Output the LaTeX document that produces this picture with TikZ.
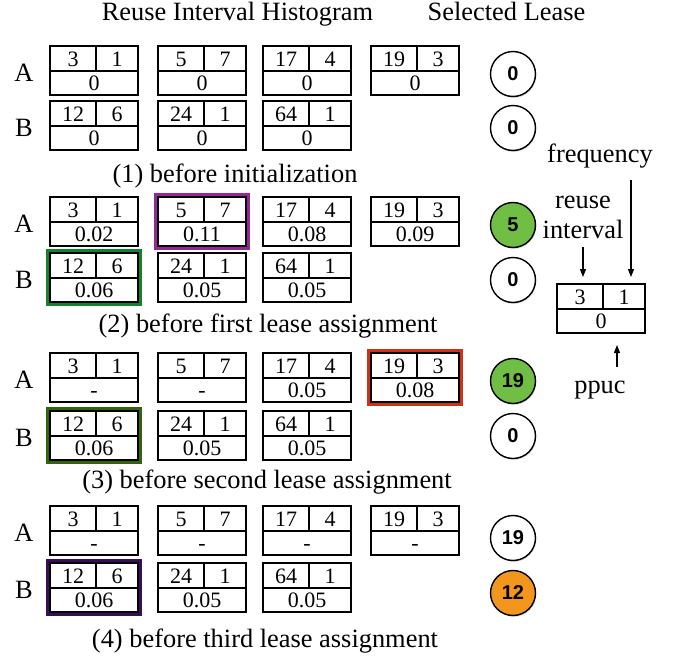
\documentclass[tikz,border=0pt]{standalone}
\usepackage{fontspec}
\setmainfont{Liberation Serif}
\newfontfamily\circfont{Liberation Sans}
\usetikzlibrary{arrows.meta,fit,shadows}
\definecolor{leasegreen}{RGB}{112,191,68}
\definecolor{leaseorange}{RGB}{243,150,30}
\definecolor{hlpurple}{RGB}{150,40,150}
\definecolor{hlgreen}{RGB}{20,130,45}
\definecolor{hlolive}{RGB}{50,100,12}
\definecolor{hlred}{RGB}{205,50,25}
\definecolor{hldark}{RGB}{55,15,85}
\tikzset{
  cellbox/.style={draw, line width=1.3pt, minimum width=88pt, minimum height=49pt, inner sep=0pt, outer sep=0pt},
  num/.style={font=\fontsize{22}{22}\selectfont, inner sep=0pt, text height=15pt, text depth=0pt},
  captext/.style={font=\fontsize{26.4}{28}\selectfont, inner sep=0pt},
  lease/.style={circle, draw, line width=1.4pt, minimum size=45pt, inner sep=0pt,
     font=\circfont\bfseries\fontsize{20}{20}\selectfont, fill=white,
     drop shadow={shadow xshift=0.8pt, shadow yshift=-1.3pt, opacity=0.35}},
  hl/.style={draw=#1, line width=3.5pt, inner sep=2.5pt},
  arr/.style={-{Triangle[length=8pt,width=6pt]}, line width=1.3pt}
}
% #1 name, #2 x left, #3 y top, #4 reuse interval, #5 frequency, #6 ppuc
\newcommand\ribox[6]{%
  \node[cellbox, anchor=north west] (#1) at (#2,#3) {};
  \draw[line width=1.6pt] ([yshift=-25pt]#1.north west) -- ([yshift=-25pt]#1.north east);
  \draw[line width=1.3pt] ([xshift=46pt]#1.north west) -- ([xshift=46pt,yshift=-25pt]#1.north west);
  \node[num] (#1r) at ([xshift=23pt,yshift=-12.5pt]#1.north west) {#4};
  \node[num] (#1f) at ([xshift=67pt,yshift=-12.5pt]#1.north west) {#5};
  \node[num] (#1p) at ([xshift=44pt,yshift=-37pt]#1.north west) {#6};
}
\begin{document}
\begin{tikzpicture}[x=1pt,y=-1pt]
\useasboundingbox (0,0) rectangle (673,659);
% titles
\node[captext, anchor=base] (title1) at (237.5,20) {Reuse Interval Histogram};
\node[captext, anchor=base] (title2) at (506.5,20) {Selected Lease};

% ---------- panel 1
\node[captext] (l1a) at (24,73) {A};
\node[captext] (l1b) at (24,128) {B};
\ribox{p1a1}{50}{46}{3}{1}{0}
\ribox{p1a2}{158}{46}{5}{7}{0}
\ribox{p1a3}{263}{46}{17}{4}{0}
\ribox{p1a4}{371}{46}{19}{3}{0}
\ribox{p1b1}{50}{101}{12}{6}{0}
\ribox{p1b2}{158}{101}{24}{1}{0}
\ribox{p1b3}{263}{101}{64}{1}{0}
\node[lease] (c1a) at (513,74) {0};
\node[lease] (c1b) at (513,128) {0};
\node[captext, anchor=base] (cap1) at (235,182) {(1) before initialization};

% ---------- panel 2
\node[captext] (l2a) at (24,224) {A};
\node[captext] (l2b) at (24,280) {B};
\ribox{p2a1}{50}{197}{3}{1}{0.02}
\ribox{p2a2}{158}{197}{5}{7}{0.11}
\ribox{p2a3}{263}{197}{17}{4}{0.08}
\ribox{p2a4}{371}{197}{19}{3}{0.09}
\ribox{p2b1}{50}{253}{12}{6}{0.06}
\ribox{p2b2}{158}{253}{24}{1}{0.05}
\ribox{p2b3}{263}{253}{64}{1}{0.05}
\node[hl=hlpurple, fit=(p2a2)] (h2a) {};
\node[hl=hlgreen, fit=(p2b1)] (h2b) {};
\node[lease, fill=leasegreen] (c2a) at (513,225) {5};
\node[lease] (c2b) at (513,280) {0};
\node[captext, anchor=base] (cap2) at (268,332) {(2) before first lease assignment};

% ---------- panel 3
\node[captext] (l3a) at (24,380) {A};
\node[captext] (l3b) at (24,438) {B};
\ribox{p3a1}{50}{353}{3}{1}{-}
\ribox{p3a2}{158}{353}{5}{7}{-}
\ribox{p3a3}{263}{353}{17}{4}{0.05}
\ribox{p3a4}{371}{353}{19}{3}{0.08}
\ribox{p3b1}{50}{411}{12}{6}{0.06}
\ribox{p3b2}{158}{411}{24}{1}{0.05}
\ribox{p3b3}{263}{411}{64}{1}{0.05}
\node[hl=hlred, fit=(p3a4)] (h3a) {};
\node[hl=hlolive, fit=(p3b1)] (h3b) {};
\node[lease, fill=leasegreen] (c3a) at (513,381) {19};
\node[lease] (c3b) at (513,436) {0};
\node[captext, anchor=base] (cap3) at (267,488) {(3) before second lease assignment};

% ---------- panel 4
\node[captext] (l4a) at (24,533) {A};
\node[captext] (l4b) at (24,590) {B};
\ribox{p4a1}{50}{506}{3}{1}{-}
\ribox{p4a2}{158}{506}{5}{7}{-}
\ribox{p4a3}{263}{506}{17}{4}{-}
\ribox{p4a4}{371}{506}{19}{3}{-}
\ribox{p4b1}{50}{563}{12}{6}{0.06}
\ribox{p4b2}{158}{563}{24}{1}{0.05}
\ribox{p4b3}{263}{563}{64}{1}{0.05}
\node[hl=hldark, fit=(p4b1)] (h4b) {};
\node[lease] (c4a) at (513,538) {19};
\node[lease, fill=leaseorange] (c4b) at (513,593) {12};
\node[captext, anchor=base] (cap4) at (265,647) {(4) before third lease assignment};

% ---------- legend
\ribox{lg}{557}{284}{3}{1}{0}
\node[captext, anchor=base] (lfreq) at (600,162) {frequency};
\node[captext, anchor=base] (lreuse1) at (583,208) {reuse};
\node[captext, anchor=base] (lreuse2) at (583,238) {interval};
\node[captext, anchor=base] (lppuc) at (600,393) {ppuc};
\coordinate (fa) at (631,180);
\coordinate (ra) at (583,247);
\coordinate (pa) at (617,367);
\draw[arr] (fa) -- ([yshift=7pt]fa |- lg.north);
\draw[arr] (ra) -- ([yshift=7pt]ra |- lg.north);
\draw[arr] (pa) -- ([yshift=-12pt]pa |- lg.south);
\end{tikzpicture}
\end{document}
